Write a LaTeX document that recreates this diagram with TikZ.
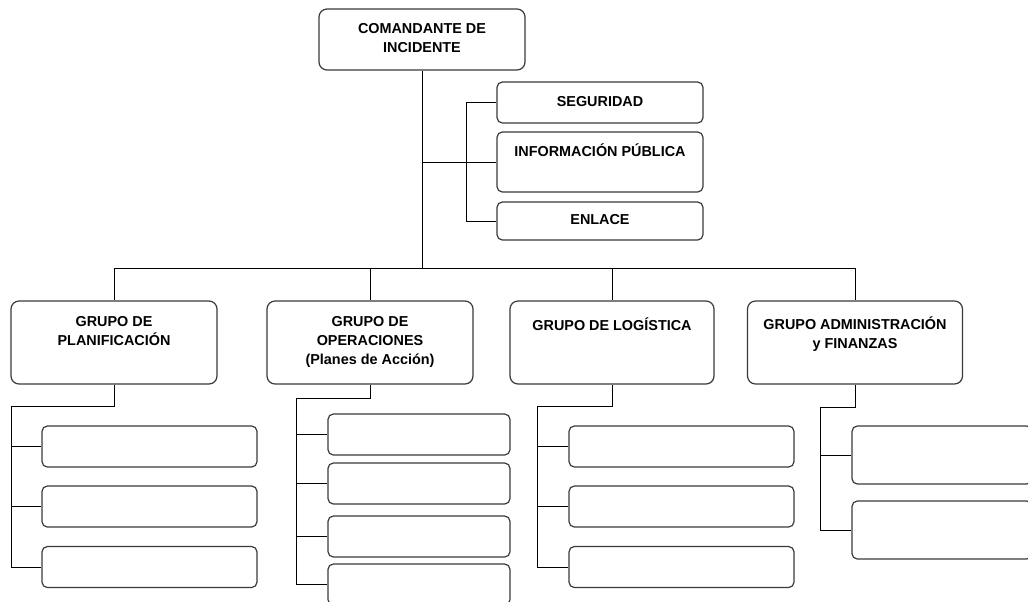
\documentclass[tikz,border=0pt]{standalone}
\usepackage{fontspec}
\setmainfont{Liberation Sans}
\usepackage{tikz}
\usetikzlibrary{positioning}
\definecolor{bordegris}{HTML}{3A3A3A}

\begin{document}
\begin{tikzpicture}[
  x=0.75pt,y=-0.75pt,
  caja/.style={draw=bordegris,line width=0.9pt,rounded corners=6pt,inner sep=0pt},
  subcaja/.style={draw=bordegris,line width=0.9pt,rounded corners=4pt,inner sep=0pt},
  tam/.style 2 args={minimum width=#1*0.75pt,minimum height=#2*0.75pt},
  rotulo/.style={font=\bfseries\fontsize{10.8}{14.25}\selectfont,align=center,inner sep=0pt,execute at begin node=\strut},
  linea/.style={draw=black,line width=0.75pt}
]
\useasboundingbox (0,0) rectangle (1028,601);

% mando
\node[caja,tam={206}{61}] (cmd) at (422,39.5) {};
\node[rotulo,below=11pt of cmd.north] {COMANDANTE DE\\INCIDENTE};

% staff
\node[subcaja,tam={206}{41}] (seg) at (600,102.5) {};
\node[rotulo] at (seg) {SEGURIDAD};
\node[subcaja,tam={206}{60}] (info) at (600,162) {};
\node[rotulo,below=8.7pt of info.north] {INFORMACIÓN PÚBLICA};
\node[subcaja,tam={206}{38}] (enl) at (600,221) {};
\node[rotulo] at (enl) {ENLACE};

\draw[linea] (seg.west) -- ++(-30,0) |- (enl.west);
\draw[linea] (cmd.south |- info.west) -- (info.west);

% grupos
\node[caja,tam={206}{83}] (plan) at (114,342.5) {};
\node[rotulo,below=12.2pt of plan.north] {GRUPO DE\\PLANIFICACIÓN};
\node[caja,tam={206}{83}] (oper) at (370,342.5) {};
\node[rotulo,below=12.2pt of oper.north] {GRUPO DE\\OPERACIONES\\(Planes de Acción)};
\node[caja,tam={204}{83}] (logi) at (612,342.5) {};
\node[rotulo,below=12.2pt of logi.north] {GRUPO DE LOGÍSTICA};
\node[caja,tam={215}{83}] (admi) at (855,342.5) {};
\node[rotulo,below=12.2pt of admi.north] {GRUPO ADMINISTRACIÓN\\y FINANZAS};

\coordinate (bus) at (422,268);
\draw[linea] (cmd.south) -- (bus);
\draw[linea] (plan.north |- bus) -- (admi.north |- bus);
\foreach \g in {plan,oper,logi,admi}
  \draw[linea] (\g.north |- bus) -- (\g.north);

% planificacion
\node[subcaja,tam={215}{41}] (pl1) at (149.5,446.5) {};
\node[subcaja,tam={215}{41}] (pl2) at (149.5,506.5) {};
\node[subcaja,tam={215}{41}] (pl3) at (149.5,567) {};
\coordinate (plA) at (11,406);
\draw[linea] (plan.south) |- (plA) |- (pl3.west);
\foreach \n in {pl1,pl2}
  \draw[linea] (plA |- \n.west) -- (\n.west);

% operaciones
\node[subcaja,tam={182}{41}] (op1) at (419,434.5) {};
\node[subcaja,tam={182}{41}] (op2) at (419,483.5) {};
\node[subcaja,tam={182}{41}] (op3) at (419,536.5) {};
\node[subcaja,tam={182}{41}] (op4) at (419,584.5) {};
\coordinate (opA) at (296,398);
\draw[linea] (oper.south) |- (opA) |- (op4.west);
\foreach \n in {op1,op2,op3}
  \draw[linea] (opA |- \n.west) -- (\n.west);

% logistica
\node[subcaja,tam={225}{41}] (lo1) at (681.5,446.5) {};
\node[subcaja,tam={225}{41}] (lo2) at (681.5,506.5) {};
\node[subcaja,tam={225}{41}] (lo3) at (681.5,567) {};
\coordinate (loA) at (537,406);
\draw[linea] (logi.south) |- (loA) |- (lo3.west);
\foreach \n in {lo1,lo2}
  \draw[linea] (loA |- \n.west) -- (\n.west);

% administracion
\node[subcaja,tam={180}{58}] (ad1) at (942,455) {};
\node[subcaja,tam={180}{58}] (ad2) at (942,530) {};
\coordinate (adA) at (820,407);
\draw[linea] (admi.south) |- (adA) |- (ad2.west);
\draw[linea] (adA |- ad1.west) -- (ad1.west);
\end{tikzpicture}
\end{document}
